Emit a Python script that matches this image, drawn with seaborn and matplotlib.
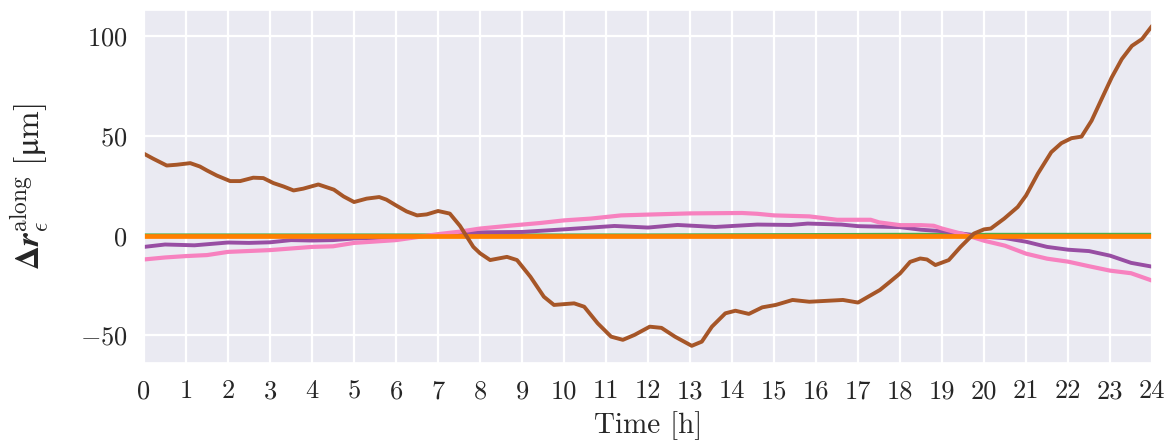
import numpy as np
import pandas as pd
import matplotlib
matplotlib.use("Agg")
import matplotlib.pyplot as plt
import seaborn as sns

# ---- data ----
t_brown = [0, 0.22, 0.54, 0.78, 1.1, 1.33, 1.5, 1.73, 2.05, 2.29, 2.6, 2.84, 3.08, 3.32,
           3.56, 3.79, 4.15, 4.52, 4.75, 5.0, 5.3, 5.6, 5.77, 6.0, 6.25, 6.5, 6.73,
           7.0, 7.28, 7.52, 7.84, 8.0, 8.24, 8.64, 8.88, 9.2, 9.52, 9.76, 10.24, 10.48,
           10.8, 11.12, 11.4, 11.68, 12.04, 12.32, 12.64, 13.04, 13.28, 13.52, 13.84,
           14.08, 14.4, 14.72, 15.04, 15.44, 15.84, 16.64, 17.0, 17.52, 17.76, 18.0,
           18.24, 18.48, 18.64, 18.84, 19.16, 19.44, 19.76, 20.0, 20.16, 20.48, 20.8,
           21.0, 21.28, 21.6, 21.84, 22.08, 22.32, 22.56, 22.8, 23.04, 23.28, 23.52,
           23.76, 24.0]
v_brown = [41.1, 38.6, 35.2, 35.6, 36.4, 34.7, 32.7, 30.2, 27.4, 27.4, 29.1, 28.9, 26.4,
           24.7, 22.7, 23.6, 25.7, 23.1, 19.7, 16.9, 18.6, 19.4, 18.1, 15.2, 12.2,
           10.2, 10.7, 12.4, 11.1, 5.0, -5.6, -8.8, -12.2, -10.6, -12.2, -20.6, -30.6,
           -34.7, -33.9, -35.6, -43.9, -50.6, -52.2, -49.7, -45.6, -46.2, -50.6, -55.2,
           -53.1, -45.6, -38.9, -37.6, -39.2, -35.9, -34.7, -32.2, -33.1, -32.2, -33.5,
           -27.2, -23.1, -18.9, -13.1, -11.4, -11.9, -14.7, -12.2, -5.6, 1.1, 3.2, 3.6,
           8.6, 14.4, 20.2, 31.1, 41.9, 46.4, 48.9, 49.7, 57.7, 68.6, 79.4, 88.6, 95.2,
           98.6, 105.2]

t_purple = [0, 0.5, 1.2, 2, 2.5, 3, 3.5, 4, 4.5, 5, 6, 7, 8, 9, 10, 11.2, 12, 12.7,
            13.6, 14.6, 15.4, 15.8, 16.6, 17, 18, 18.5, 19, 19.5, 20, 20.5, 21, 21.5,
            22, 22.5, 23, 23.5, 24]
v_purple = [-5.6, -4.4, -4.8, -3.4, -3.6, -3.3, -2.2, -2.4, -2.2, -1.4, -0.9, 0.2,
            1.7, 1.9, 3.2, 4.9, 4.1, 5.4, 4.4, 5.6, 5.4, 6.1, 5.6, 4.8, 4.3, 3.0,
            2.3, 1.0, -0.5, -1.2, -3.0, -5.6, -7.0, -7.7, -10.0, -13.6, -15.5]

t_pink = [0, 0.5, 1, 1.5, 2, 3, 4, 4.5, 5, 6, 7, 7.5, 8, 8.64, 9.44, 10, 10.64, 11.36,
          12, 13, 14.24, 14.6, 15, 15.84, 16.5, 17, 17.3, 17.5, 18, 18.5, 18.8, 19,
          19.5, 20, 20.5, 21, 21.5, 22, 22.5, 23, 23.5, 24]
v_pink = [-11.9, -10.9, -10.2, -9.7, -8.1, -7.2, -5.6, -5.3, -3.6, -2.2, 0.8, 2.0,
          3.6, 4.9, 6.4, 7.7, 8.6, 10.2, 10.6, 11.2, 11.4, 11.0, 10.2, 9.7, 8.0, 8.0,
          8.0, 6.7, 5.3, 5.3, 5.0, 3.6, 0.8, -2.5, -5.0, -9.0, -11.5, -13.0, -15.3,
          -17.5, -18.8, -22.5]

t_green = [0, 6, 12, 16.5, 18, 20, 22, 24]
v_green = [0.3, 0.3, 0.3, 0.5, 0.6, 0.6, 0.6, 0.6]

t_orange = [0, 6, 12, 18, 24]
v_orange = [0, 0, 0, 0, 0]

x_ticks = list(range(0, 25))
y_ticks = [-50, 0, 50, 100]

series = [
    ("green", t_green, v_green, "#4daf4a", 2.5),
    ("purple", t_purple, v_purple, "#984ea3", 2.8),
    ("pink", t_pink, v_pink, "#f781bf", 3.0),
    ("orange", t_orange, v_orange, "#ff7f00", 3.4),
    ("brown", t_brown, v_brown, "#a65628", 2.8),
]

sns.set_theme(style="darkgrid")
plt.rcParams["font.family"] = "serif"
plt.rcParams["font.serif"] = ["cmr10", "DejaVu Serif"]
plt.rcParams["mathtext.fontset"] = "cm"
plt.rcParams["axes.formatter.use_mathtext"] = True

fig = plt.figure(figsize=(11.72, 4.48), dpi=100)
ax = fig.add_axes([0.1229, 0.19, 0.8601, 0.788])

for name, t, v, c, lw in series:
    df = pd.DataFrame({"t": t, "v": v})
    sns.lineplot(data=df, x="t", y="v", ax=ax, color=c, linewidth=lw)

ax.set_xlim(0, 24)
ax.set_ylim(-63.75, 113.25)
ax.set_xticks(x_ticks)
ax.set_xticklabels([str(x) for x in x_ticks])
ax.set_yticks(y_ticks)
ax.tick_params(axis="both", labelsize=19, pad=6)
ax.set_xlabel("Time [h]", fontsize=21, labelpad=6)
ax.set_ylabel("$\\mathbf{\u0394}\\mathbfit{r}_{\\epsilon}^{\\mathrm{along}}\\ [\\mathrm{\u03bcm}]$",
              fontsize=24)
ax.yaxis.set_label_coords(-0.092, 0.5)
ax.grid(True, color="white", linewidth=1.6)

fig.savefig("out.png", dpi=100)
